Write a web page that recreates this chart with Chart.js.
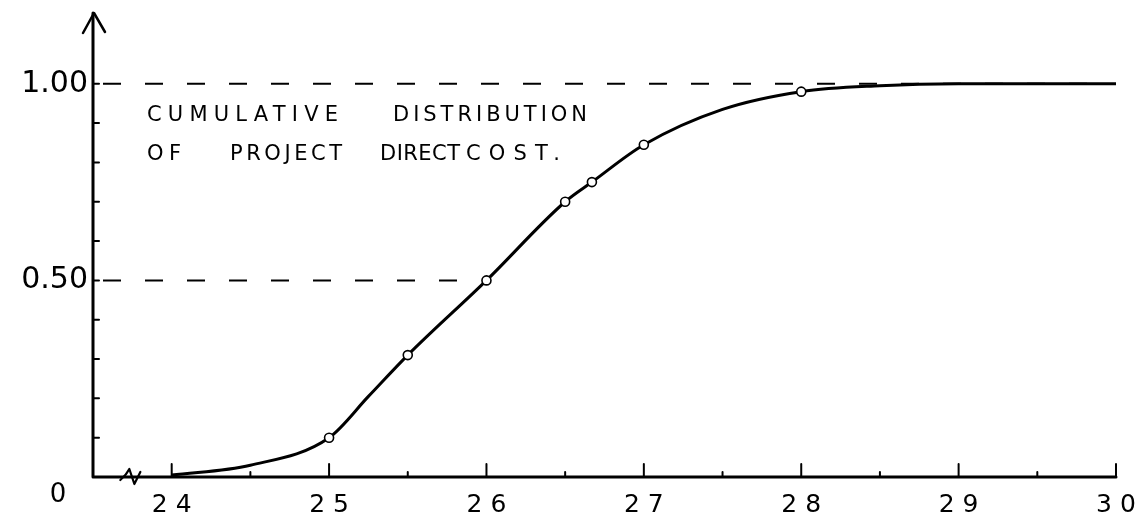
<!DOCTYPE html>
<html>
<head>
<meta charset="utf-8">
<title>Cumulative distribution of project direct cost</title>
<script src="https://cdn.jsdelivr.net/npm/chart.js@4/dist/chart.umd.min.js"></script>
<style>
  html, body { margin: 0; padding: 0; background: #fff; }
  #wrap { width: 1146px; height: 520px; }
</style>
</head>
<body>
<div id="wrap"><canvas id="cdf" width="1146" height="520"></canvas></div>
<script>
// Project direct cost (x) against cumulative probability (y)
const costs      = [24, 24.5, 25, 25.25, 25.5, 26, 26.5, 26.67, 27, 27.5, 28, 28.5, 29, 30];
const cumulative = [0.005, 0.03, 0.10, 0.205, 0.31, 0.50, 0.70, 0.75, 0.845, 0.935, 0.98, 0.995, 1.0, 1.0];
// which of the points above carry a small circle marker
const marked     = [false, false, true, false, true, true, true, true, true, false, true, false, false, false];

const costTickLabels = ['24', '25', '26', '27', '28', '29', '30'];
const probTickLabels = { '0.5': '0.50', '1': '1.00' };
const referenceLevels = [0.5, 1.0];
const annotationLines = [
  ['CUMULATIVE', 'DISTRIBUTION'],
  ['OF', 'PROJECT', 'DIRECT', 'COST.']
];

const INK = '#000';
const FONT = '"DejaVu Sans", "Liberation Sans", sans-serif';

const points = costs.map((c, i) => ({ x: c, y: cumulative[i] }));

// word boxes of the note: [left, right] in pixels, and the level each line sits at
const noteWordSpans = [
  [[147, 338], [393, 587]],
  [[147, 181], [230, 342], [380, 460], [466, 560]]
];
const noteLineLevels = [0.92, 0.82];

// Axes, inward tick marks, dashed guide lines, note text and axis break
const sketchDecor = {
  id: 'sketchDecor',
  beforeDatasetsDraw(chart) {
    const { ctx, scales: { x, y } } = chart;
    ctx.save();
    ctx.strokeStyle = INK;
    ctx.lineWidth = 2;
    ctx.setLineDash([18, 24]);
    referenceLevels.forEach(level => {
      const py = y.getPixelForValue(level);
      // guide line runs to where the curve reaches the level
      let endX = x.getPixelForValue(x.max) - 14;
      if (level < 1) {
        const idx = cumulative.findIndex(v => v >= level);
        endX = x.getPixelForValue(costs[idx]) - 20;
      }
      ctx.beginPath();
      ctx.moveTo(x.left + 10, py);
      ctx.lineTo(endX, py);
      ctx.stroke();
    });
    ctx.restore();
  },
  afterDraw(chart) {
    const { ctx, scales: { x, y }, chartArea: area } = chart;
    ctx.save();
    ctx.strokeStyle = INK;
    ctx.fillStyle = INK;
    ctx.lineCap = 'round';
    ctx.lineJoin = 'round';

    // main axes
    ctx.lineWidth = 3;
    ctx.beginPath();
    ctx.moveTo(area.left, area.top);
    ctx.lineTo(area.left, area.bottom);
    ctx.lineTo(x.getPixelForValue(30), area.bottom);
    ctx.stroke();

    // arrow head on the probability axis
    ctx.lineWidth = 2.5;
    ctx.beginPath();
    ctx.moveTo(area.left - 10, area.top + 20);
    ctx.lineTo(area.left + 1, area.top);
    ctx.lineTo(area.left + 12, area.top + 19);
    ctx.stroke();

    // inward ticks on the probability axis (every 0.1)
    ctx.lineWidth = 2;
    y.ticks.forEach(t => {
      if (t.value <= 0 || t.value > 1.0001) return;
      const py = y.getPixelForValue(t.value);
      ctx.beginPath();
      ctx.moveTo(area.left, py);
      ctx.lineTo(area.left + 6, py);
      ctx.stroke();
    });

    // upward ticks on the cost axis: long at whole numbers, short at halves
    x.ticks.forEach(t => {
      if (t.value < 24) return;
      const px = x.getPixelForValue(t.value);
      const whole = Math.abs(t.value - Math.round(t.value)) < 1e-6;
      ctx.beginPath();
      ctx.moveTo(px, area.bottom);
      ctx.lineTo(px, area.bottom - (whole ? 13 : 5));
      ctx.stroke();
    });

    // axis break squiggle near the origin
    const bx = x.getPixelForValue(23.75);
    ctx.lineWidth = 2.2;
    ctx.beginPath();
    ctx.moveTo(bx - 12, area.bottom + 3);
    ctx.quadraticCurveTo(bx - 6, area.bottom - 2, bx - 3, area.bottom - 8);
    ctx.lineTo(bx + 2, area.bottom + 7);
    ctx.lineTo(bx + 8, area.bottom - 5);
    ctx.stroke();

    // origin label
    ctx.font = '26px ' + FONT;
    ctx.textAlign = 'center';
    ctx.textBaseline = 'middle';
    ctx.fillText('0', area.left - 35, area.bottom + 18);

    // note in the upper left of the plot, each word stretched over its span
    ctx.font = '21px ' + FONT;
    ctx.textAlign = 'left';
    ctx.textBaseline = 'middle';
    annotationLines.forEach((words, li) => {
      const py = y.getPixelForValue(noteLineLevels[li]);
      words.forEach((w, wi) => {
        const [l, r] = noteWordSpans[li][wi];
        ctx.letterSpacing = '0px';
        const natural = ctx.measureText(w).width;
        const gap = Math.max(0, (r - l - natural) / Math.max(1, w.length - 1));
        ctx.letterSpacing = gap.toFixed(2) + 'px';
        ctx.fillText(w, l, py);
      });
    });
    ctx.restore();
  }
};

new Chart(document.getElementById('cdf'), {
  type: 'line',
  data: {
    datasets: [{
      data: points,
      borderColor: INK,
      borderWidth: 3,
      cubicInterpolationMode: 'monotone',
      fill: false,
      pointRadius: marked.map(m => m ? 4.5 : 0),
      pointHoverRadius: 0,
      pointBackgroundColor: '#fff',
      pointBorderColor: INK,
      pointBorderWidth: 1.6
    }]
  },
  options: {
    responsive: false,
    animation: false,
    devicePixelRatio: 1,
    layout: { padding: { top: 13, right: 30, left: 0, bottom: 0 } },
    plugins: {
      legend: { display: false },
      tooltip: { enabled: false },
      title: { display: false }
    },
    scales: {
      x: {
        type: 'linear',
        min: 23.5,
        max: 30,
        afterFit(scale) {
          scale.height = 43;
          scale.paddingLeft = 0;
          scale.paddingRight = 0;
        },
        border: { display: false },
        grid: { display: false, drawTicks: false },
        ticks: {
          stepSize: 0.5,
          autoSkip: false,
          maxRotation: 0,
          padding: 13,
          color: INK,
          font: { family: FONT, size: 25 },
          callback(v) {
            const label = String(v);
            return costTickLabels.includes(label) ? label.split('').join(' ') : '';
          }
        }
      },
      y: {
        type: 'linear',
        min: 0,
        max: 1.18,
        afterFit(scale) {
          scale.width = 93;
          scale.paddingTop = 0;
          scale.paddingBottom = 0;
        },
        border: { display: false },
        grid: { display: false, drawTicks: false },
        ticks: {
          stepSize: 0.1,
          autoSkip: false,
          padding: 5,
          color: INK,
          font: { family: FONT, size: 30 },
          callback(v) {
            const key = String(Math.round(v * 100) / 100);
            return probTickLabels[key] || '';
          }
        }
      }
    }
  },
  plugins: [sketchDecor]
});
</script>
</body>
</html>
